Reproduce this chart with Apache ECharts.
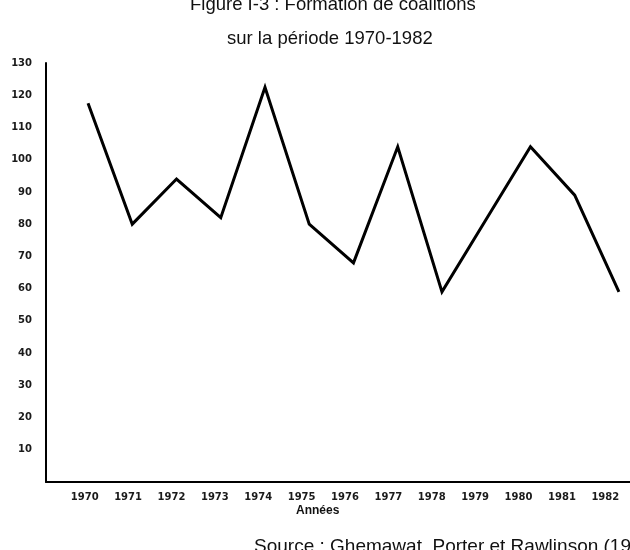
<!DOCTYPE html>
<html>
<head>
<meta charset="utf-8">
<script src="https://cdn.jsdelivr.net/npm/echarts@6/dist/echarts.min.js"></script>
<style>html,body{margin:0;padding:0;background:#fff;}#c{width:630px;height:550px;}</style>
</head>
<body>
<div id="c"></div>
<script>
const years = [1970, 1971, 1972, 1973, 1974, 1975, 1976, 1977, 1978, 1979, 1980, 1981, 1982];
const coalitions = [117.5, 80, 94, 82, 122.5, 80, 68, 104, 59, 81.5, 104, 89, 59];
const yearLabels = ['1970','1971','1972','1973','1974','1975','1976','1977','1978','1979','1980','1981','1982'];
const titleLine1 = 'Figure I-3 : Formation de coalitions';
const titleLine2 = 'sur la période 1970-1982';
const axisName = 'Années';
const sourceText = 'Source : Ghemawat, Porter et Rawlinson (1986)';

const chart = echarts.init(document.getElementById('c'), null, {renderer: 'canvas'});
const lbl = {fontFamily: 'DejaVu Sans', fontSize: 10, fontWeight: 'bold', color: '#1a1a1a'};
const ttl = {fontFamily: 'Liberation Sans', fontSize: 18.5, fontWeight: 'normal', color: '#111'};
chart.setOption({
  backgroundColor: '#fff',
  animation: false,
  title: [
    {text: titleLine1, left: 185, top: -10, textStyle: ttl},
    {text: titleLine2, left: 222, top: 24, textStyle: ttl}
  ],
  graphic: [
    {type: 'text', left: 296, top: 505, style: {text: axisName, fontFamily: 'Liberation Sans', fontSize: 12, fontWeight: 'bold', fill: '#111'}},
    {type: 'text', left: 254, top: 537, style: {text: sourceText, fontFamily: 'Liberation Sans', fontSize: 19, fill: '#111'}}
  ],
  grid: [
    {left: 46, right: 0, top: 63, bottom: 68, containLabel: false},
    {left: 63, right: 3, top: 63, bottom: 68, containLabel: false}
  ],
  xAxis: [
    {type: 'value', gridIndex: 0, min: 1969.05, max: 1982.25,
     axisLine: {show: true, onZero: false, lineStyle: {color: '#000', width: 2}},
     axisTick: {show: false}, axisLabel: {show: false}, splitLine: {show: false}},
    {type: 'category', gridIndex: 1, data: yearLabels, boundaryGap: true,
     axisLine: {show: false}, axisTick: {show: false}, splitLine: {show: false},
     axisLabel: Object.assign({margin: 10, interval: 0}, lbl)}
  ],
  yAxis: [
    {type: 'value', gridIndex: 0, min: 0, max: 130, interval: 10,
     axisLine: {show: true, lineStyle: {color: '#000', width: 2}},
     axisTick: {show: false}, splitLine: {show: false},
     axisLabel: Object.assign({margin: 14, formatter: v => v === 0 ? '' : String(v)}, lbl)},
    {type: 'value', gridIndex: 1, min: 0, max: 130, show: false}
  ],
  series: [
    {type: 'line', xAxisIndex: 0, yAxisIndex: 0,
     data: years.map((y, i) => [y, coalitions[i]]),
     showSymbol: false, symbol: 'none',
     lineStyle: {color: '#000', width: 3, join: 'miter'}}
  ]
});
</script>
</body>
</html>
